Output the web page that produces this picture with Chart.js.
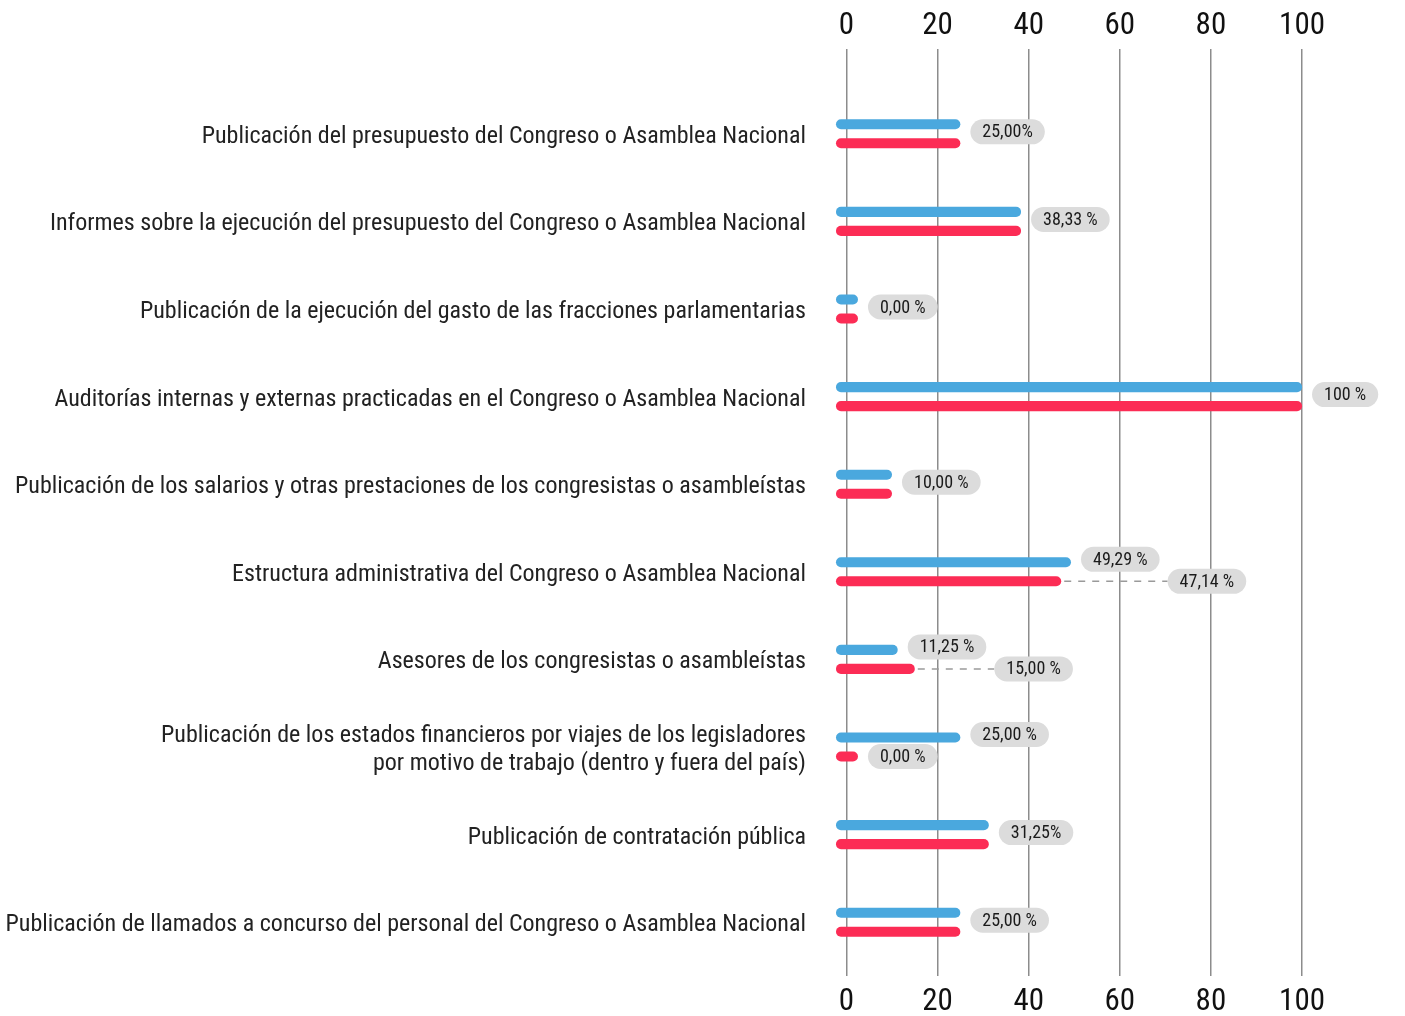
<!DOCTYPE html>
<html>
<head>
<meta charset="utf-8">
<script src="https://cdn.jsdelivr.net/npm/chart.js@4.4.1/dist/chart.umd.min.js"></script>
<style>
    html, body { margin: 0; padding: 0; background: #fff; }
    #wrap { width: 1405px; height: 1016px; }
</style>
</head>
<body>
<div id="wrap"><canvas id="bar_chart"></canvas></div>
<script>
var categories = [
    "Publicación del presupuesto del Congreso o Asamblea Nacional",
    "Informes sobre la ejecución del presupuesto del Congreso o Asamblea Nacional",
    "Publicación de la ejecución del gasto de las fracciones parlamentarias",
    "Auditorías internas y externas practicadas en el Congreso o Asamblea Nacional",
    "Publicación de los salarios y otras prestaciones de los congresistas o asambleístas",
    "Estructura administrativa del Congreso o Asamblea Nacional",
    "Asesores de los congresistas o asambleístas",
    ["Publicación de los estados financieros por viajes de los legisladores", "por motivo de trabajo (dentro y fuera del país)"],
    "Publicación de contratación pública",
    "Publicación de llamados a concurso del personal del Congreso o Asamblea Nacional"
];
var blueValues = [25, 38.33, 0, 100, 10, 49.29, 11.25, 25, 31.25, 25];
var redValues = [25, 38.33, 0, 100, 10, 47.14, 15, 0, 31.25, 25];
var blueLabels = ["25,00%", "38,33 %", "0,00 %", "100 %", "10,00 %", "49,29 %", "11,25 %", "25,00 %", "31,25%", "25,00 %"];
var redLabels = [null, null, null, null, null, "47,14 %", "15,00 %", "0,00 %", null, null];
var xTicks = [0, 20, 40, 60, 80, 100];

var FONT = '"Roboto Condensed", "Liberation Sans Narrow", "Roboto", sans-serif';

function drawPill(ctx, text, x, y) {
    var w = ctx.measureText(text).width + 24;
    var h = 25;
    ctx.fillStyle = '#dcdcdc';
    ctx.beginPath();
    ctx.roundRect(x, y - h / 2, w, h, h / 2);
    ctx.fill();
    ctx.fillStyle = '#1a1a1a';
    ctx.fillText(text, x + w / 2, y + 1);
    return w;
}

var pillPlugin = {
    id: 'pills',
    afterDatasetsDraw: function (chart) {
        var ctx = chart.ctx;
        var blue = chart.getDatasetMeta(0).data;
        var red = chart.getDatasetMeta(1).data;
        ctx.save();
        ctx.font = '18px ' + FONT;
        ctx.textAlign = 'center';
        ctx.textBaseline = 'middle';
        categories.forEach(function (c, i) {
            var b = blue[i], r = red[i];
            if (redLabels[i] === null) {
                drawPill(ctx, blueLabels[i], Math.max(b.x, r.x) + 10, (b.y + r.y) / 2 - 2);
                return;
            }
            var bx = b.x + 10;
            var bw = drawPill(ctx, blueLabels[i], bx, b.y - 3);
            var rx = r.x + 10;
            var rw = ctx.measureText(redLabels[i]).width + 24;
            if (rx < bx + bw && rx + rw > bx) {
                var nx = bx + bw + 8;
                ctx.strokeStyle = '#9a9a9a';
                ctx.lineWidth = 1.5;
                ctx.setLineDash([7, 7]);
                ctx.beginPath();
                ctx.moveTo(r.x + 3, r.y);
                ctx.lineTo(nx, r.y);
                ctx.stroke();
                ctx.setLineDash([]);
                rx = nx;
            }
            drawPill(ctx, redLabels[i], rx, r.y);
        });
        ctx.restore();
    }
};

function setTicks(axis) {
    axis.ticks = xTicks.map(function (v) { return { value: v }; });
}

new Chart(document.getElementById('bar_chart').getContext('2d'), {
    type: 'bar',
    data: {
        labels: categories,
        datasets: [{
            label: 'Serie azul',
            data: blueValues,
            backgroundColor: '#4aa8de',
            xAxisID: 'x'
        }, {
            label: 'Serie roja',
            data: redValues,
            backgroundColor: '#fc2c55',
            xAxisID: 'x'
        }]
    },
    options: {
        indexAxis: 'y',
        responsive: true,
        maintainAspectRatio: false,
        animation: false,
        base: -2.3,
        minBarLength: 22,
        borderRadius: 5,
        borderSkipped: false,
        categoryPercentage: 0.4335,
        barPercentage: 0.53,
        layout: { padding: { left: 0, right: 5, top: 0, bottom: 0 } },
        plugins: { legend: { display: false }, tooltip: { enabled: false } },
        scales: {
            x: {
                position: 'top',
                min: -8,
                max: 121.5,
                afterBuildTicks: setTicks,
                afterFit: function (axis) { axis.height = 90; },
                border: { display: false },
                grid: { color: '#8c8c8c', lineWidth: 1.5, tickLength: 41 },
                ticks: { font: { family: FONT, size: 31 }, color: '#111', padding: 4, maxRotation: 0 }
            },
            x2: {
                position: 'bottom',
                min: -8,
                max: 121.5,
                afterBuildTicks: setTicks,
                afterFit: function (axis) { axis.height = 50; },
                border: { display: false },
                grid: { color: '#8c8c8c', lineWidth: 1.5, tickLength: 10, drawOnChartArea: false },
                ticks: { font: { family: FONT, size: 31 }, color: '#111', padding: 8, maxRotation: 0 }
            },
            y: {
                afterFit: function (axis) { axis.width = 810; },
                border: { display: false },
                grid: { display: false, drawTicks: false },
                ticks: { font: { family: FONT, size: 24 }, color: '#222', padding: 4, labelOffset: 3 }
            }
        }
    },
    plugins: [pillPlugin]
});
</script>
</body>
</html>
